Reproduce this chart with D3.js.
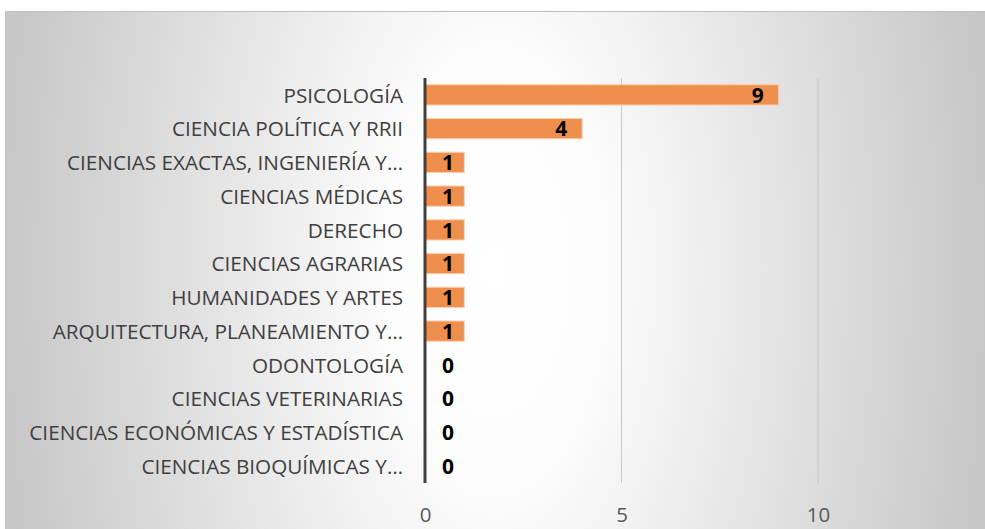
<!DOCTYPE html>
<html>
<head>
<meta charset="utf-8">
<script src="https://cdn.jsdelivr.net/npm/d3@7"></script>
<style>
  body { margin: 0; background: #fff; }
  text { font-family: "Open Sans", sans-serif; }
</style>
</head>
<body>
<svg id="chart" width="985" height="529"></svg>
<script>
// categories, top to bottom
const categories = [
    "PSICOLOGÍA",
    "CIENCIA POLÍTICA Y RRII",
    "CIENCIAS EXACTAS, INGENIERÍA Y…",
    "CIENCIAS MÉDICAS",
    "DERECHO",
    "CIENCIAS AGRARIAS",
    "HUMANIDADES Y ARTES",
    "ARQUITECTURA, PLANEAMIENTO Y…",
    "ODONTOLOGÍA",
    "CIENCIAS VETERINARIAS",
    "CIENCIAS ECONÓMICAS Y ESTADÍSTICA",
    "CIENCIAS BIOQUÍMICAS Y…"
];
const values = [9, 4, 1, 1, 1, 1, 1, 1, 0, 0, 0, 0];
const tickValues = [0, 5, 10];

const svg = d3.select("#chart");
const W = 985, H = 529;

// background with the radial grey gradient
let defs = svg.append("defs");
let grad = defs.append("radialGradient")
    .attr("id", "bg")
    .attr("gradientUnits", "userSpaceOnUse")
    .attr("cx", 495).attr("cy", 270).attr("r", 500)
    .attr("gradientTransform", "translate(0,270) scale(1,2) translate(0,-270)");
grad.append("stop").attr("offset", "0").attr("stop-color", "#ffffff");
grad.append("stop").attr("offset", "0.2").attr("stop-color", "#fdfdfd");
grad.append("stop").attr("offset", "1").attr("stop-color", "#c6c6c6");

svg.append("rect")
    .attr("x", 5.5).attr("y", 11.5)
    .attr("width", W).attr("height", H)
    .attr("fill", "url(#bg)")
    .attr("stroke", "#bfbfbf")
    .attr("stroke-width", 1);

let x = d3.scaleLinear().domain([0, 10]).range([425, 818]);
let y = d3.scaleBand().domain(categories)
    .range([78, 483])
    .paddingInner(0.4)
    .paddingOuter(0.2);

// gridlines
svg.append("g").selectAll("line.grid")
    .data(tickValues.filter(d => d > 0))
    .enter().append("line")
    .attr("class", "grid")
    .attr("x1", d => x(d)).attr("x2", d => x(d))
    .attr("y1", 78).attr("y2", 483)
    .attr("stroke", "#c8c8c8")
    .attr("stroke-width", 1);

// bars
svg.append("g").selectAll("rect.bar")
    .data(values)
    .enter().append("rect")
    .attr("class", "bar")
    .attr("x", x(0))
    .attr("y", (d, i) => y(categories[i]))
    .attr("width", d => x(d) - x(0))
    .attr("height", y.bandwidth())
    .attr("fill", "#ef8f4e")
    .attr("stroke", d => d > 0 ? "#f9cfb0" : "none")
    .attr("stroke-width", 1);

// vertical axis line
svg.append("line")
    .attr("x1", x(0)).attr("x2", x(0))
    .attr("y1", 78).attr("y2", 483)
    .attr("stroke", "#404040")
    .attr("stroke-width", 3);

// x axis tick labels
let xAxis = d3.axisBottom(x).tickValues(tickValues).tickSize(0).tickPadding(0);
let gx = svg.append("g")
    .attr("transform", "translate(0,507)")
    .call(xAxis);
gx.select(".domain").remove();
gx.selectAll("text")
    .attr("dy", "0.71em")
    .attr("fill", "#595959")
    .style("font-size", "20.5px")
    .style("font-family", "'Open Sans', sans-serif");

// category labels
let yAxis = d3.axisLeft(y).tickSize(0).tickPadding(0);
let gy = svg.append("g")
    .attr("transform", "translate(403,1)")
    .call(yAxis);
gy.select(".domain").remove();
gy.selectAll("text")
    .attr("fill", "#404040")
    .style("font-size", "20.7px")
    .style("font-family", "'Open Sans', sans-serif");

// data labels
svg.append("g").selectAll("text.lbl")
    .data(values)
    .enter().append("text")
    .attr("class", "lbl")
    .attr("x", d => Math.max(x(d) - 15, x(0) + 29))
    .attr("y", (d, i) => y(categories[i]) + y.bandwidth() / 2)
    .attr("dy", "0.37em")
    .attr("text-anchor", "end")
    .attr("fill", "#000")
    .style("font-size", "21px")
    .style("font-weight", "bold")
    .text(d => d);
</script>
</body>
</html>
